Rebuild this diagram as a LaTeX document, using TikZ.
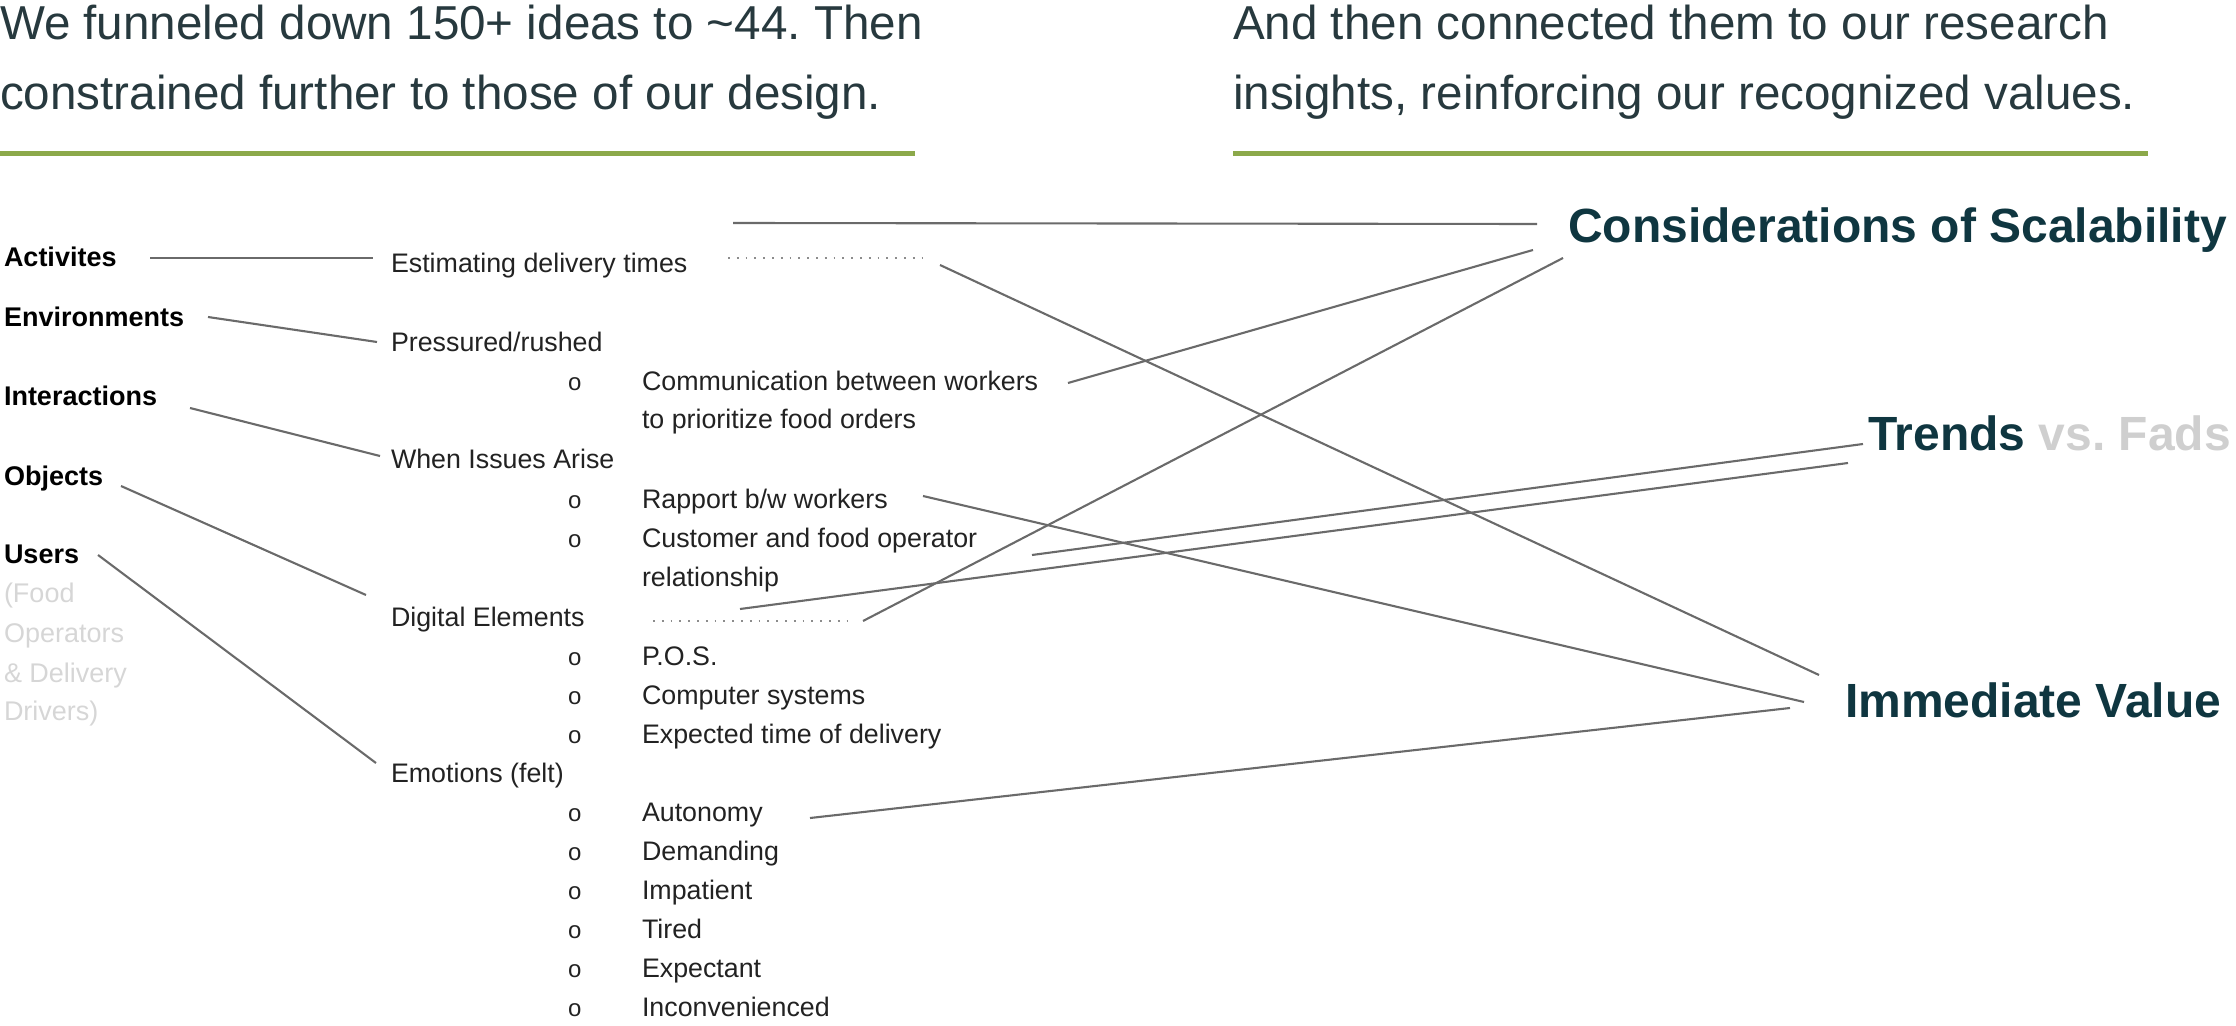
\documentclass[tikz,border=0pt]{standalone}
\usepackage{fontspec}
\setmainfont{Liberation Sans}
\frenchspacing
\definecolor{titlec}{HTML}{27393E}
\definecolor{greenl}{HTML}{8CA94A}
\definecolor{insightc}{HTML}{0F3640}
\definecolor{fadec}{HTML}{CFCFCF}
\definecolor{usersc}{HTML}{D6D6D6}
\definecolor{itemc}{HTML}{222222}
\definecolor{linec}{HTML}{6A6A6A}
\definecolor{dotc}{HTML}{8C8C8C}
\tikzset{
  every node/.style={inner sep=0pt, outer sep=0pt, anchor=base west},
  titletext/.style={font=\fontsize{23.8pt}{28pt}\selectfont, text=titlec},
  cat/.style={font=\fontsize{13.5pt}{16pt}\selectfont\bfseries, text=black},
  sub/.style={font=\fontsize{13.5pt}{16pt}\selectfont, text=usersc},
  item/.style={font=\fontsize{13.4pt}{16pt}\selectfont, text=itemc},
  bul/.style={font=\fontsize{12pt}{16pt}\selectfont, text=itemc},
  insight/.style={font=\fontsize{24pt}{28pt}\selectfont\bfseries, text=insightc},
  rule/.style={draw=greenl, line width=2.5pt},
  conn/.style={draw=linec, line width=1.05pt},
  dotline/.style={draw=dotc, line width=0.9pt, dash pattern=on 0.9pt off 3.5pt},
}
\begin{document}
\begin{tikzpicture}[x=0.5pt,y=-0.5pt]
\useasboundingbox (0,0) rectangle (2236,1026);

% titles
\node[titletext] (tl1) at (0,40) {We funneled down 150+ ideas to \textasciitilde44. Then};
\node[titletext] (tl2) at (0,110) {constrained further to those of our design.};
\node[titletext] (tr1) at (1233,40) {And then connected them to our research};
\node[titletext] (tr2) at (1233,110) {insights, reinforcing our recognized values.};
\draw[rule] (0,154) -- (915,154);
\draw[rule] (1233,154) -- (2148,154);

% left categories
\node[cat] (act) at (4,267) {Activites};
\node[cat] (env) at (4,327) {Environments};
\node[cat] (int) at (4,406) {Interactions};
\node[cat] (obj) at (4,485) {Objects};
\node[cat] (usr) at (4,563) {Users};
\node[sub] (usr1) at (4,602) {(Food};
\node[sub] (usr2) at (4,642) {Operators};
\node[sub] (usr3) at (4,682) {\& Delivery};
\node[sub] (usr4) at (4,720) {Drivers)};

% middle items
\node[item] (est) at (391,273) {Estimating delivery times};
\node[item] (pre) at (391,351) {Pressured/rushed};
\node[bul] (b1) at (568,390) {o};
\node[item] (com) at (642,390) {Communication between workers};
\node[item] (com2) at (642,429) {to prioritize food orders};
\node[item] (whe) at (391,468) {When Issues Arise};
\node[bul] (b2) at (568,508) {o};
\node[item] (rap) at (642,508) {Rapport b/w workers};
\node[bul] (b3) at (568,547) {o};
\node[item] (cus) at (642,547) {Customer and food operator};
\node[item] (cus2) at (642,586) {relationship};
\node[item] (dig) at (391,626) {Digital Elements};
\node[bul] (b4) at (568,665) {o};
\node[item] (pos) at (642,665) {P.O.S.};
\node[bul] (b5) at (568,704) {o};
\node[item] (cmp) at (642,704) {Computer systems};
\node[bul] (b6) at (568,743) {o};
\node[item] (etd) at (642,743) {Expected time of delivery};
\node[item] (emo) at (391,782) {Emotions (felt)};
\node[bul] (b7) at (568,821) {o};
\node[item] (aut) at (642,821) {Autonomy};
\node[bul] (b8) at (568,860) {o};
\node[item] (dem) at (642,860) {Demanding};
\node[bul] (b9) at (568,899) {o};
\node[item] (imp) at (642,899) {Impatient};
\node[bul] (b10) at (568,938) {o};
\node[item] (tir) at (642,938) {Tired};
\node[bul] (b11) at (568,977) {o};
\node[item] (exp) at (642,977) {Expectant};
\node[bul] (b12) at (568,1016) {o};
\node[item] (inc) at (642,1016) {Inconvenienced};

% insights
\node[insight] (sca) at (1568,243) {Considerations of Scalability};
\node[insight] (tre) at (1868,450) {Trends \textcolor{fadec}{vs. Fads}};
\node[insight] (imv) at (1845,717) {Immediate Value};

% connector end points
\coordinate (act-r) at (150,258);  \coordinate (est-l) at (373,258);
\coordinate (env-r) at (208,317);  \coordinate (pre-l) at (377,342);
\coordinate (int-r) at (190,408);  \coordinate (whe-l) at (380,456);
\coordinate (obj-r) at (121,486);  \coordinate (dig-l) at (366,595);
\coordinate (usr-r) at (98,555);   \coordinate (emo-l) at (376,763);
\coordinate (est-top) at (733,223); \coordinate (sca-a) at (1537,224);
\coordinate (estd-a) at (728,258);  \coordinate (estd-b) at (930,258);
\coordinate (est-r) at (940,265);   \coordinate (imv-a) at (1819,675);
\coordinate (com-r) at (1068,383);  \coordinate (sca-b) at (1533,250);
\coordinate (rap-r) at (923,496);   \coordinate (imv-b) at (1804,702);
\coordinate (cus-r) at (1032,555);  \coordinate (tre-a) at (1863,444);
\coordinate (dig-r) at (740,609);   \coordinate (tre-b) at (1848,463);
\coordinate (digd-a) at (653,621);  \coordinate (digd-b) at (847,621);
\coordinate (dig-r2) at (863,621);  \coordinate (sca-c) at (1563,258);
\coordinate (aut-r) at (810,818);   \coordinate (imv-c) at (1790,708);

% connectors
\draw[conn] (act-r) -- (est-l);
\draw[conn] (env-r) -- (pre-l);
\draw[conn] (int-r) -- (whe-l);
\draw[conn] (obj-r) -- (dig-l);
\draw[conn] (usr-r) -- (emo-l);
\draw[conn] (est-top) -- (sca-a);
\draw[dotline] (estd-a) -- (estd-b);
\draw[conn] (est-r) -- (imv-a);
\draw[conn] (com-r) -- (sca-b);
\draw[conn] (rap-r) -- (imv-b);
\draw[conn] (cus-r) -- (tre-a);
\draw[conn] (dig-r) -- (tre-b);
\draw[dotline] (digd-a) -- (digd-b);
\draw[conn] (dig-r2) -- (sca-c);
\draw[conn] (aut-r) -- (imv-c);
\end{tikzpicture}
\end{document}
